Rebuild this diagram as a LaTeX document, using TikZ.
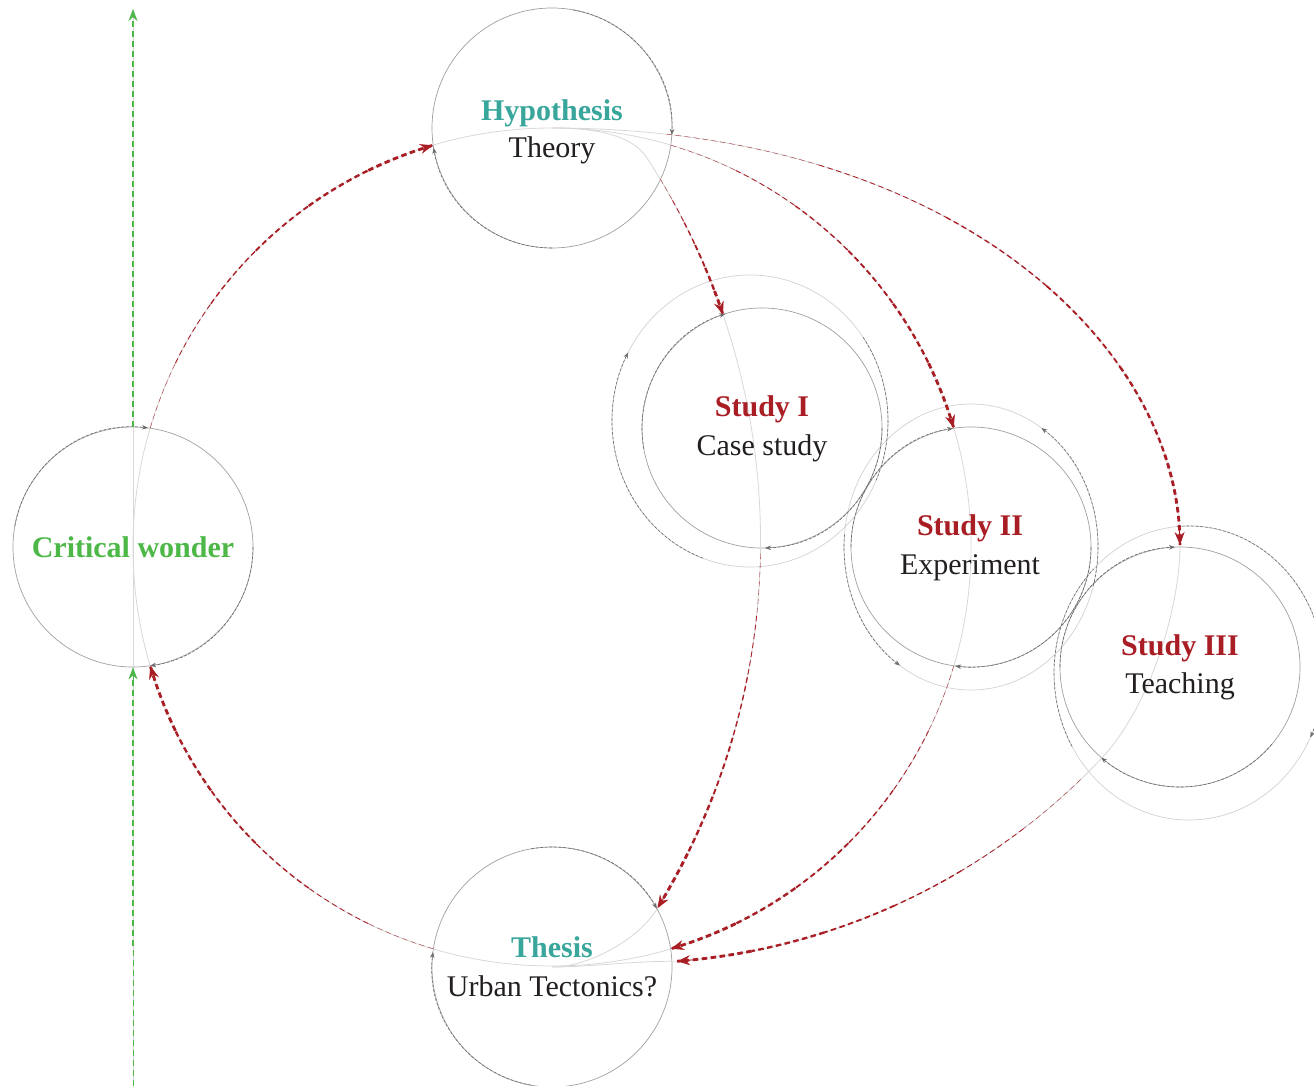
\documentclass[tikz,border=0pt]{standalone}
\usepackage{fontspec}
\setmainfont{Liberation Serif}
\usetikzlibrary{arrows.meta}
\definecolor{tealc}{HTML}{38A69B}
\definecolor{redc}{HTML}{A91D24}
\definecolor{greenc}{HTML}{4DB848}
\definecolor{inkc}{HTML}{231F20}
\definecolor{ringc}{HTML}{A0A0A0}
\definecolor{ringd}{HTML}{6C6C6C}
\definecolor{guidec}{HTML}{D8D8D8}
\definecolor{outerc}{HTML}{D2D2D2}

\tikzset{
  ringnode/.style={circle, draw=ringc, line width=0.7pt, minimum size=240pt, inner sep=0pt},
  outerring/.style={draw=outerc, line width=0.7pt},
  guideline/.style={draw=guidec, line width=0.8pt},
  cyc/.style={draw=ringd, line width=0.6pt, dash pattern=on 3pt off 1.6pt},
  cyctip/.style={-{Stealth[length=6pt,width=4.5pt]}},
  redlink/.style={draw=redc, dash pattern=on 5.5pt off 3.5pt},
  redtip/.style={draw=redc, line width=0.8pt, -{Stealth[length=13pt,width=10pt]}},
  greenlink/.style={draw=greenc, line width=2.6pt, dash pattern=on 6pt off 4pt},
  greentip/.style={draw=greenc, line width=0.8pt, -{Stealth[length=12pt,width=9pt]}},
  titleb/.style={anchor=base, font=\bfseries\fontsize{30}{36}\selectfont},
  sub/.style={anchor=base, text=inkc, font=\fontsize{30}{36}\selectfont},
}

% tapered red arc: center, radius, start angle, end angle (arrow)
\newcommand\RedArc[4]{%
  \foreach \k in {0,...,5}{%
    \pgfmathsetmacro\rsa{(#3)+((#4)-(#3))*\k/6}%
    \pgfmathsetmacro\rea{(#3)+((#4)-(#3))*(\k+1)/6}%
    \pgfmathsetmacro\rlw{0.35+0.5*\k}%
    \draw[redlink, line width=\rlw pt] (#1) ++(\rsa:#2) arc[start angle=\rsa, end angle=\rea, radius=#2];
  }%
  \pgfmathsetmacro\rsa{(#4)-((#4)-(#3))/abs((#4)-(#3))*900/(#2)}%
  \draw[redtip] (#1) ++(\rsa:#2) arc[start angle=\rsa, end angle=#4, radius=#2];
}
% tapered red cubic Bezier
\newcommand\SetBez[8]{\def\bxa{#1}\def\bya{#2}\def\bxb{#3}\def\byb{#4}\def\bxc{#5}\def\byc{#6}\def\bxd{#7}\def\byd{#8}}
\newcommand\BezEval[1]{%
  \pgfmathsetmacro\bzt{#1}%
  \pgfmathsetmacro\bzu{1-\bzt}%
  \pgfmathsetmacro\bzx{\bzu*\bzu*\bzu*\bxa+3*\bzu*\bzu*\bzt*\bxb+3*\bzu*\bzt*\bzt*\bxc+\bzt*\bzt*\bzt*\bxd}%
  \pgfmathsetmacro\bzy{\bzu*\bzu*\bzu*\bya+3*\bzu*\bzu*\bzt*\byb+3*\bzu*\bzt*\bzt*\byc+\bzt*\bzt*\bzt*\byd}%
  \pgfmathsetmacro\bzdx{3*(\bzu*\bzu*(\bxb-\bxa)+2*\bzu*\bzt*(\bxc-\bxb)+\bzt*\bzt*(\bxd-\bxc))}%
  \pgfmathsetmacro\bzdy{3*(\bzu*\bzu*(\byb-\bya)+2*\bzu*\bzt*(\byc-\byb)+\bzt*\bzt*(\byd-\byc))}%
}
\newcommand\RedBez[2]{%
  \foreach \k in {0,...,5}{%
    \pgfmathsetmacro\rbta{#1+(#2-#1)*\k/6}%
    \pgfmathsetmacro\rbtb{#1+(#2-#1)*(\k+1)/6}%
    \pgfmathsetmacro\rbdt{(\rbtb-\rbta)/3}%
    \BezEval{\rbta}\let\pax\bzx\let\pay\bzy\let\padx\bzdx\let\pady\bzdy
    \BezEval{\rbtb}%
    \pgfmathsetmacro\cax{\pax+\rbdt*\padx}%
    \pgfmathsetmacro\cay{\pay+\rbdt*\pady}%
    \pgfmathsetmacro\cbx{\bzx-\rbdt*\bzdx}%
    \pgfmathsetmacro\cby{\bzy-\rbdt*\bzdy}%
    \pgfmathsetmacro\rlw{0.35+0.5*\k}%
    \draw[redlink, line width=\rlw pt] (\pax,\pay) .. controls (\cax,\cay) and (\cbx,\cby) .. (\bzx,\bzy);
  }%
  \BezEval{#2-0.025}\let\pax\bzx\let\pay\bzy
  \BezEval{#2}%
  \draw[redtip] (\pax,\pay) -- (\bzx,\bzy);
}
\newcommand\CycArc[4]{\draw[cyc, cyctip] (#1) ++(#3:#2) arc[start angle=#3, end angle=#4, radius=#2];}
\newcommand\CycEll[6]{\draw[cyc, #6] (#1) ++(#4:#2 and #3) arc[start angle=#4, end angle=#5, x radius=#2, y radius=#3];}

\begin{document}
\begin{tikzpicture}[x=1pt, y=-1pt]
\fill[white] (0,0) rectangle (1314,1086);
\useasboundingbox (0,0) rectangle (1314,1086);

\coordinate (c0) at (552,547);
\coordinate (c1) at (56.6,541.4);
\coordinate (c3b) at (625.7,308.3);
\coordinate (gtop) at (133,9);
\coordinate (gbot) at (133,1086);
\coordinate (s1o) at (750,421);
\coordinate (s2o) at (971,547);
\coordinate (s3o) at (1189,673);

% circles
\node[ringnode] (hyp) at (552,128) {};
\node[ringnode] (cw) at (133,547) {};
\node[ringnode] (s1) at (762,428) {};
\node[ringnode] (s2) at (971,547) {};
\node[ringnode] (s3) at (1180,667) {};
\node[ringnode] (th) at (552,967) {};
\draw[outerring] (s1o) ellipse[x radius=138, y radius=146];
\draw[outerring] (s2o) ellipse[x radius=127, y radius=143];
\draw[outerring] (s3o) ellipse[x radius=135, y radius=147];

% guides
\draw[guideline] (c0) circle[radius=419];
\draw[guideline] (gtop) -- (gbot);
\draw[guideline] (hyp.center) .. controls (590,128) and (631,133) .. (647,158) arc[start angle=-33, end angle=31.4, radius=704] .. controls (640,938) and (590,967) .. (th.center);
\draw[guideline] (hyp.center) .. controls (952,128) and (1180,345) .. (1180,545) .. controls (1180,605) and (1151.8,705.7) .. (1100,760) arc[start angle=43.6, end angle=85.5, radius=655] .. controls (634,960.8) and (590,967) .. (th.center);

% cycle arcs on circles
\CycArc{hyp.center}{120}{-80}{3.3}
\CycArc{hyp.center}{120}{90}{170.5}
\CycArc{cw.center}{120}{-170}{-82.8}
\CycArc{cw.center}{120}{0}{81.8}
\CycArc{th.center}{120}{100}{187.2}
\CycArc{th.center}{120}{-100}{-29.1}
\CycArc{s1.center}{120}{170}{252.2}
\CycArc{s1.center}{120}{0}{88.6}
\CycArc{s2.center}{120}{180}{261.4}
\CycArc{s2.center}{120}{0}{97.6}
\CycArc{s3.center}{120}{180}{267.6}
\CycArc{s3.center}{120}{40}{131}
\CycEll{s1o}{138}{146}{110}{208}{cyctip}
\CycEll{s1o}{138}{146}{-35}{24}{}
\CycEll{s2o}{127}{143}{16}{-56.3}{cyctip}
\CycEll{s2o}{127}{143}{185}{124}{cyctip}
\CycEll{s3o}{135}{147}{-95}{26}{cyctip}
\CycEll{s3o}{135}{147}{150}{225}{}

% red connectors
\RedArc{c0}{419}{196.5}{253.5}
\RedArc{c0}{419}{286.5}{343.5}
\RedArc{c0}{419}{16.5}{73.5}
\RedArc{c0}{419}{106.5}{163.5}
\RedArc{c1}{704}{-31}{-18.8}
\RedArc{c1}{704}{1}{31.4}
\SetBez{552}{128}{952}{128}{1180}{345}{1180}{545}
\RedBez{0.1}{1}
\RedArc{c3b}{655}{46}{85.5}

% green connectors
\draw[greenlink, -{Stealth[length=12pt,width=9pt]}] (cw.north) -- (gtop);
\foreach \k in {0,...,5}{%
  \pgfmathsetmacro\gy{1086-70*\k}%
  \pgfmathsetmacro\gz{1086-70*(\k+1)}%
  \pgfmathsetmacro\gw{0.4+0.44*\k}%
  \draw[greenlink, line width=\gw pt] (133,\gy) -- (133,\gz);
}
\draw[greentip] (133,681) -- (cw.south);

% texts
\node[titleb, text=tealc] (hypT) at (552,121) {Hypothesis};
\node[sub] (hypS) at (552,158) {Theory};
\node[titleb, text=greenc] (cwT) at (133,557) {Critical wonder};
\node[titleb, text=redc] (s1T) at (762,416) {Study I};
\node[sub] (s1S) at (762,455) {Case study};
\node[titleb, text=redc] (s2T) at (970,535) {Study II};
\node[sub] (s2S) at (970,574) {Experiment};
\node[titleb, text=redc] (s3T) at (1180,655) {Study III};
\node[sub] (s3S) at (1180,693) {Teaching};
\node[titleb, text=tealc] (thT) at (552,957) {Thesis};
\node[sub] (thS) at (552,996) {Urban Tectonics?};
\end{tikzpicture}
\end{document}
